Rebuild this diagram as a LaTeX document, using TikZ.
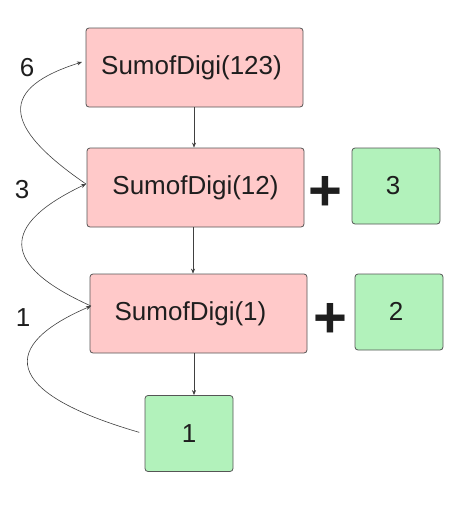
\documentclass[tikz,border=0pt]{standalone}
\usepackage{fontspec}
\setmainfont{Liberation Sans}
\usetikzlibrary{arrows.meta}
\definecolor{pinkfill}{HTML}{FFC9C9}
\definecolor{greenfill}{HTML}{B2F2BB}
\definecolor{edge}{HTML}{555555}
\definecolor{ink}{HTML}{1E1E1E}
\begin{document}
\begin{tikzpicture}[x=1pt,y=-1pt,
  callbox/.style={draw=edge,line width=0.8pt,fill=pinkfill,rounded corners=3pt,
    minimum width=217pt,minimum height=79pt,inner sep=0pt,
    font=\fontsize{26}{30}\selectfont,text=ink},
  valbox/.style={draw=edge,line width=0.8pt,fill=greenfill,rounded corners=3pt,
    minimum width=88pt,minimum height=76pt,inner sep=0pt,
    font=\fontsize{26}{30}\selectfont,text=ink},
  sumlabel/.style={font=\fontsize{26}{30}\selectfont,text=ink,inner sep=0pt},
  plussign/.style={font=\bfseries\fontsize{58}{58}\selectfont,text=ink,inner sep=0pt},
  link/.style={draw=ink!85,line width=0.6pt,-{Stealth[length=5pt,width=4pt]}}]
\useasboundingbox (0,0) rectangle (472,514);
\node[callbox] (c1) at (194.5,67.5) {\hspace*{-6pt}SumofDigi(123)};
\node[callbox] (c2) at (195.5,187.5) {SumofDigi(12)};
\node[callbox] (c3) at (198.5,313.5) {\hspace*{-16pt}\raisebox{4pt}{SumofDigi(1)}};
\node[valbox] (v1) at (189,433.5) {1};
\node[valbox] (v3) at (396,186) {\hspace*{-6pt}\raisebox{2pt}{3}};
\node[valbox] (v2) at (399,312) {\hspace*{-6pt}\raisebox{1pt}{2}};
\node[plussign] (p1) at (325,193) {+};
\node[plussign] (p2) at (330,320) {+};
\node[sumlabel] (l6) at (27,68) {6};
\node[sumlabel] (l3) at (22,190) {3};
\node[sumlabel] (l1) at (23,318) {1};
\coordinate (a1) at (82,62);
\coordinate (s1) at (86,184);
\coordinate (s2) at (91,306);
\coordinate (s3) at (145,434);
\draw[link] (c1.south -| 194,0) -- (c2.north -| 194,0);
\draw[link] (c2.south -| 193,0) -- (c3.north -| 193,0);
\draw[link] (c3.south -| 194,0) -- (v1.north -| 194,0);
\draw[link] (s1) .. controls (0,125) and (0,88) .. (a1);
\draw[link] (s2) .. controls (0,265) and (0,225) .. (s1);
\draw[link,shorten <=6pt] (s3) .. controls (0,392) and (0,345) .. (s2);
\end{tikzpicture}
\end{document}
